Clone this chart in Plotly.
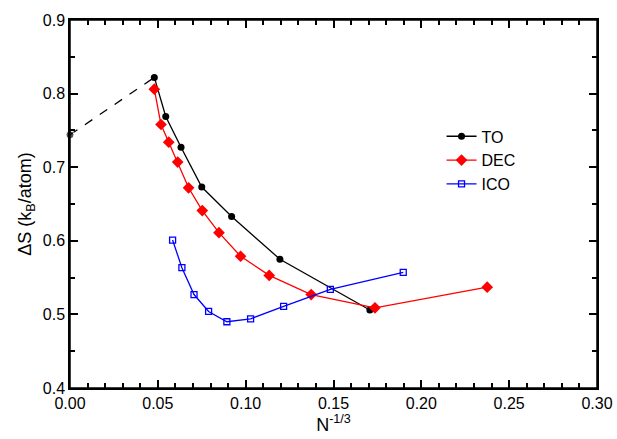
import plotly.graph_objects as go

to_x = [0.048, 0.0545, 0.0632, 0.075, 0.092, 0.1195, 0.1707]
to_y = [0.822, 0.769, 0.727, 0.673, 0.633, 0.575, 0.506]
ext_x = [0.0, 0.048]
ext_y = [0.744, 0.822]
dec_x = [0.048, 0.0518, 0.0562, 0.0613, 0.0675, 0.0753, 0.0848, 0.0971, 0.1134, 0.1373, 0.1736, 0.2375]
dec_y = [0.806, 0.758, 0.734, 0.707, 0.672, 0.641, 0.611, 0.579, 0.553, 0.527, 0.509, 0.537]
ico_x = [0.0584, 0.0637, 0.0706, 0.0789, 0.0893, 0.1028, 0.1216, 0.1482, 0.1897]
ico_y = [0.601, 0.5635, 0.527, 0.504, 0.490, 0.494, 0.511, 0.534, 0.557]

fig = go.Figure()
fig.add_trace(go.Scatter(x=ext_x, y=ext_y, mode="lines+markers", showlegend=False,
                         line=dict(color="black", width=1.3, dash="dash"),
                         marker=dict(symbol="circle", size=[8, 0], color="black"),
                         cliponaxis=False))
fig.add_trace(go.Scatter(x=to_x, y=to_y, mode="lines+markers", name="TO",
                         line=dict(color="black", width=1.3),
                         marker=dict(symbol="circle", size=7, color="black")))
fig.add_trace(go.Scatter(x=dec_x, y=dec_y, mode="lines+markers", name="DEC",
                         line=dict(color="red", width=1.3),
                         marker=dict(symbol="diamond", size=9, color="red")))
fig.add_trace(go.Scatter(x=ico_x, y=ico_y, mode="lines+markers", name="ICO",
                         line=dict(color="blue", width=1.3),
                         marker=dict(symbol="square-open", size=6, color="blue", line=dict(width=1.3))))

axis_common = dict(showline=True, linecolor="black", linewidth=1.5, mirror="allticks",
                   ticks="inside", tickcolor="black", tickwidth=1.5, showgrid=False, zeroline=False,
                   tickfont=dict(size=16, color="black", family="Liberation Sans, Arial, sans-serif"))
fig.update_xaxes(range=[0, 0.30], dtick=0.05, tickformat=".2f", ticklen=8,
                 minor=dict(dtick=0.01, ticks="inside", ticklen=5, tickcolor="black", tickwidth=1.5),
                 title=dict(text="N<sup>-1/3</sup>", font=dict(size=18, color="black"), standoff=2),
                 **axis_common)
fig.update_yaxes(range=[0.4, 0.9], dtick=0.1, tickformat=".1f", ticklen=8,
                 minor=dict(dtick=0.05, ticks="inside", ticklen=5, tickcolor="black", tickwidth=1.5),
                 title=dict(text="ΔS (k<sub>B</sub>/atom)", font=dict(size=18, color="black"), standoff=6),
                 **axis_common)
fig.add_shape(type="rect", xref="paper", yref="paper", x0=0, y0=0, x1=1, y1=1,
              line=dict(color="black", width=1.5), layer="above")
fig.update_layout(width=617, height=439, margin=dict(l=70, r=20, t=20, b=51, autoexpand=False),
                  plot_bgcolor="white", paper_bgcolor="white",
                  font=dict(family="Liberation Sans, Arial, sans-serif", color="black"),
                  legend=dict(x=0.705, y=0.73, xanchor="left", yanchor="top",
                              bgcolor="rgba(0,0,0,0)", font=dict(size=16), tracegroupgap=0,
                              itemwidth=30))
fig.write_html("out.html", config={"displayModeBar": False},
               post_script="document.body.style.margin='0';")
